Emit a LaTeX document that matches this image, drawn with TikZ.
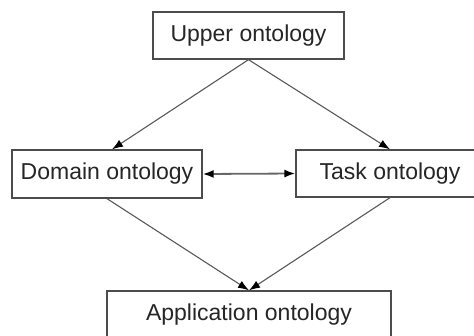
\documentclass[tikz,border=0pt]{standalone}
\usepackage{fontspec}
\setmainfont{Liberation Sans}
\usetikzlibrary{arrows.meta}
\begin{document}
\begin{tikzpicture}[x=1pt,y=-1pt,
  box/.style={draw=black!70, line width=1.3pt, fill=white, inner sep=0pt, minimum height=47pt,
    font=\fontsize{23}{27}\selectfont, text=black!85},
  conn/.style={draw=black!65, line width=1.1pt, -{Latex[length=11pt,width=8pt,color=black]}},
  both/.style={draw=black!60, line width=1.8pt, {Latex[length=11pt,width=8pt,color=black]}-{Latex[length=11pt,width=8pt,color=black]}}]
\useasboundingbox (0,0) rectangle (474,335);
\fill[white] (0,0) rectangle (474,335);
\clip (0,0) rectangle (474,335);
\node[box, minimum width=191pt] (up) at (248.5,35.5) {Upper ontology};
\node[box, minimum width=190pt, minimum height=48pt] (dom) at (107,174) {Domain ontology};
\node[box, minimum width=188pt] (task) at (390,173.5) {Task ontology};
\node[box, minimum width=284pt, minimum height=48pt] (app) at (249,315) {Application ontology};
\draw[conn] (up.south) -- ([xshift=5pt]dom.north);
\draw[conn] (up.south) -- (task.north);
\draw[conn] (dom.south) -- (app.north);
\draw[conn] (task.south) -- (app.north);
\draw[both] (dom.east) -- (task.west);
\end{tikzpicture}
\end{document}
